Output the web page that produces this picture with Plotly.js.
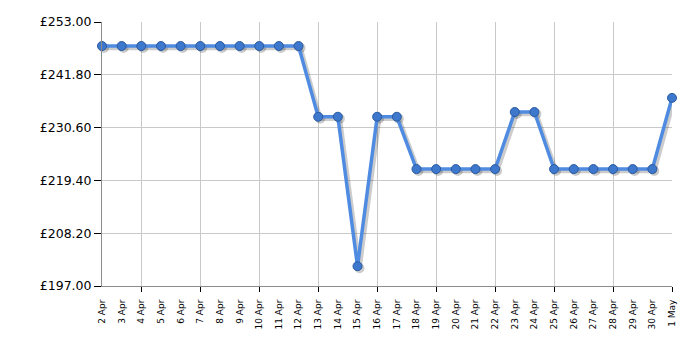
<!DOCTYPE html>
<html>
<head>
<meta charset="utf-8">
<script src="https://cdn.plot.ly/plotly-3.0.1.min.js"></script>
<style>html,body{margin:0;padding:0;background:#fff;}#chart{width:700px;height:350px;}</style>
</head>
<body>
<div id="chart"></div>
<script>
const dateLabels = ["2 Apr","3 Apr","4 Apr","5 Apr","6 Apr","7 Apr","8 Apr","9 Apr","10 Apr","11 Apr","12 Apr","13 Apr","14 Apr","15 Apr","16 Apr","17 Apr","18 Apr","19 Apr","20 Apr","21 Apr","22 Apr","23 Apr","24 Apr","25 Apr","26 Apr","27 Apr","28 Apr","29 Apr","30 Apr","1 May"];
const prices = [247.9,247.9,247.9,247.9,247.9,247.9,247.9,247.9,247.9,247.9,247.9,232.9,232.9,201.2,232.9,232.9,221.8,221.8,221.8,221.8,221.8,233.9,233.9,221.8,221.8,221.8,221.8,221.8,221.8,236.9];
const yTicks = [197.00,208.20,219.40,230.60,241.80,253.00];
const gridDays = ["4 Apr","7 Apr","10 Apr","13 Apr","16 Apr","19 Apr","22 Apr","25 Apr","28 Apr","1 May"];

const idx = dateLabels.map((d,i)=>i);
const gridIdx = gridDays.map(d=>dateLabels.indexOf(d));

const W = 700, H = 350, ml = 102, mr = 28, mt = 21.5, mb = 63.7;
const pw = W-ml-mr, ph = H-mt-mb;
const xr = [0, dateLabels.length-1];
const yr = [yTicks[0], yTicks[yTicks.length-1]];
const pxX = (xr[1]-xr[0])/pw, pxY = (yr[1]-yr[0])/ph;
const sx = 2, sy = 2;

const baseTrace = {x:[], y:[], xaxis:'x', yaxis:'y', type:'scatter', hoverinfo:'skip', showlegend:false};
const gridTrace = {x:[], y:[], xaxis:'x2', yaxis:'y', type:'scatter', hoverinfo:'skip', showlegend:false};
const shadow = {
  x: idx, y: prices, xaxis:'x3', yaxis:'y3', type:'scatter', mode:'lines+markers',
  line:{color:'rgba(0,0,0,0.2)', width:4.5},
  marker:{size:10, color:'rgba(0,0,0,0.2)'},
  cliponaxis:false, hoverinfo:'skip', showlegend:false
};
const main = {
  x: idx, y: prices, xaxis:'x4', yaxis:'y4', type:'scatter', mode:'lines+markers',
  line:{color:'#4f8be0', width:3.5},
  marker:{size:9, color:'#3d78cc', line:{color:'#2a5aa0', width:1}},
  cliponaxis:false, showlegend:false
};

const font = {family:'"DejaVu Sans", Verdana, sans-serif', color:'#000'};
const layout = {
  width:W, height:H,
  margin:{l:ml, r:mr, t:mt, b:mb, pad:0},
  paper_bgcolor:'#fff', plot_bgcolor:'#fff',
  showlegend:false,
  xaxis:{
    range:xr, tickmode:'array', tickvals:idx, ticktext:dateLabels, tickangle:-90,
    showgrid:false, zeroline:false, ticks:'outside', ticklen:9, tickcolor:'rgba(0,0,0,0)',
    showline:true, linecolor:'#8c8c8c', linewidth:1,
    tickfont:Object.assign({size:9}, font), fixedrange:true
  },
  xaxis2:{
    overlaying:'x', range:xr, tickmode:'array', tickvals:gridIdx, showticklabels:false,
    showgrid:true, gridcolor:'#c9c9c9', gridwidth:1, zeroline:false,
    ticks:'outside', ticklen:5, tickcolor:'#000', tickwidth:1, showline:false
  },
  xaxis3:{overlaying:'x', range:[xr[0]-sx*pxX, xr[1]-sx*pxX], visible:false},
  xaxis4:{overlaying:'x', range:xr, visible:false},
  yaxis:{
    range:yr, tickmode:'array', tickvals:yTicks,
    ticktext:yTicks.map(v=>'£'+v.toFixed(2)),
    showgrid:true, gridcolor:'#c9c9c9', gridwidth:1, zeroline:false,
    ticks:'outside', ticklen:7, tickcolor:'#000', tickwidth:1,
    showline:true, linecolor:'#8c8c8c', linewidth:1,
    tickfont:Object.assign({size:12.5}, font), fixedrange:true
  },
  yaxis3:{overlaying:'y', range:[yr[0]+sy*pxY, yr[1]+sy*pxY], visible:false},
  yaxis4:{overlaying:'y', range:yr, visible:false}
};

Plotly.newPlot('chart', [baseTrace, gridTrace, shadow, main], layout, {displayModeBar:false, staticPlot:true});
</script>
</body>
</html>
